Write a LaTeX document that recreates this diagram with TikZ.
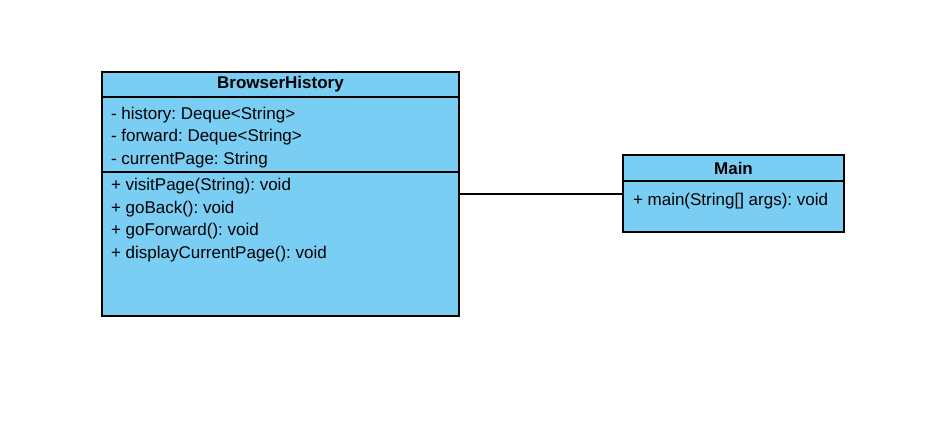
\documentclass[tikz,border=0pt]{standalone}
\usepackage{fontspec}
\setmainfont{Liberation Sans}
\usetikzlibrary{positioning}
\definecolor{umlblue}{RGB}{122,206,244}
\frenchspacing
\begin{document}
\begin{tikzpicture}[x=1pt, y=1pt]
      \tikzstyle{every node}=[inner sep=0pt, outer sep=0pt, font=\fontsize{17}{19}\selectfont]
      \tikzstyle{part}=[draw, fill=umlblue, line width=1.1pt, anchor=north west]
      \tikzstyle{member}=[anchor=west]

      \useasboundingbox (0,0) rectangle (952,-437);

      % BrowserHistory class
      \path (102,-72) node[part, minimum width=357pt, minimum height=25pt] (bhHead) {};
      \node[part, below=0pt of bhHead.south west, anchor=north west,
            minimum width=357pt, minimum height=75pt] (bhAttr) {};
      \node[part, below=0pt of bhAttr.south west, anchor=north west,
            minimum width=357pt, minimum height=144pt] (bhOps) {};
      \node at (bhHead.center) {\bfseries BrowserHistory};

      \foreach \txt [count=\i] in {{- history: Deque<String>}, {- forward: Deque<String>},
                                   {- currentPage: String}}
      {
        \path (111,-115-22.5*\i+22.5) node[member] (attr\i) {\txt};
      }

      \foreach \txt [count=\j] in {{+ visitPage(String): void}, {+ goBack(): void},
                                   {+ goForward(): void}, {+ displayCurrentPage(): void}}
      {
        \path (111,-186-22.7*\j+22.7) node[member] (op\j) {\txt};
      }

      % Main class
      \path (623,-155) node[part, minimum width=221pt, minimum height=26pt] (mainHead) {};
      \node[part, below=0pt of mainHead.south west, anchor=north west,
            minimum width=221pt, minimum height=51pt] (mainOps) {};
      \node at (mainHead.center) {\bfseries Main};
      \path (633,-201) node[member] (mainOp) {+ main(String[] args): void};

      % association
      \coordinate (link) at (0,-194);
      \draw[line width=1.1pt] (bhOps.east |- link) -- (mainOps.west |- link);
    \end{tikzpicture}
\end{document}
